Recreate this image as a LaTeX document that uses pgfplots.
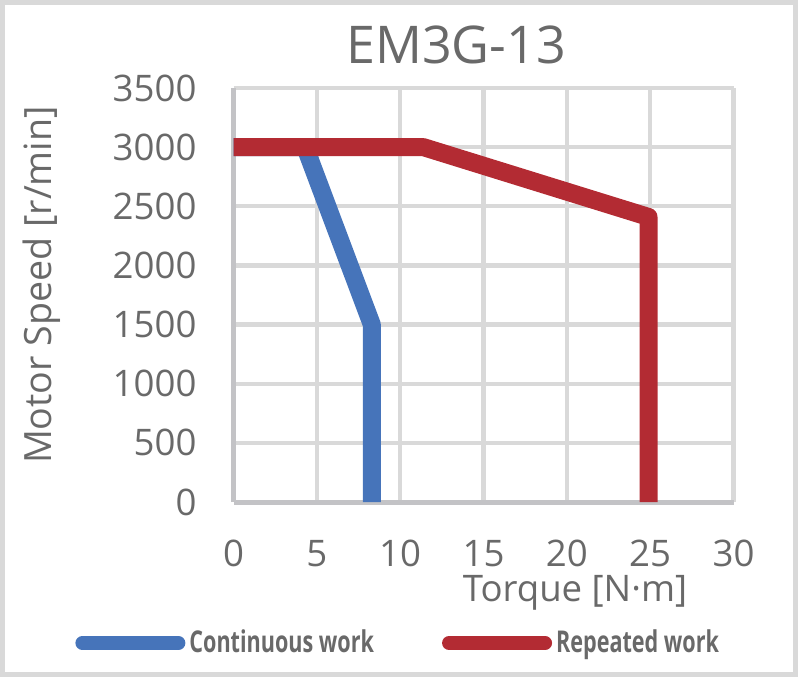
\documentclass[border=0pt]{standalone}
\usepackage{fontspec}
\setmainfont{Open Sans}
\usepackage{graphicx}
\usepackage{pgfplots}
\pgfplotsset{compat=1.18}
\definecolor{cblue}{RGB}{70,116,186}
\definecolor{cred}{RGB}{179,43,51}
\definecolor{gridc}{RGB}{217,217,217}
\definecolor{axc}{RGB}{195,195,198}
\definecolor{txt}{RGB}{105,105,105}
\begin{document}
\begin{tikzpicture}
\path[use as bounding box] (0,0) rectangle (399pt,338.5pt);
\draw[gridc, line width=2.5pt] (1.25pt,1.25pt) rectangle (397.75pt,337.25pt);
\begin{axis}[
 at={(116.75pt,87.5pt)}, anchor=south west,
 scale only axis, width=250pt, height=207pt,
 xmin=0, xmax=30, ymin=0, ymax=3500,
 xtick={0,5,...,30}, ytick={0,500,...,3500},
 grid=major, major grid style={gridc, line width=2.2pt},
 axis x line*=bottom, axis y line*=left,
 axis line style={axc, line width=2.5pt, -},
 major tick length=0pt,
 tick label style={font=\fontsize{18.3}{20}\selectfont, text=txt},
 /pgf/number format/assume math mode=true,
 /pgf/number format/1000 sep={},
 xticklabel style={yshift=-15.5pt},
 yticklabel style={xshift=-15pt},
 clip=false,
 legend columns=2,
 legend style={at={(-0.317,-0.3406)}, anchor=west, draw=none, fill=none,
   inner sep=0pt, font=\fontsize{15}{16}\selectfont, text=txt,
   /tikz/every even column/.append style={column sep=32pt}},
 legend cell align=left,
 legend image code/.code={\draw[#1, line width=7pt, line cap=round] (3.5pt,0pt) -- (51.5pt,0pt);},
]
\addplot[cblue, line width=9pt, line join=round] coordinates {(0,3000) (4.3,3000) (8.3,1500) (8.3,0)};
\addlegendentry{\scalebox{0.72}[1]{\bfseries Continuous work}}
\addplot[cred, line width=9pt, line join=round] coordinates {(0,3000) (11.4,3000) (24.9,2410) (24.9,0)};
\addlegendentry{\scalebox{0.72}[1]{\bfseries Repeated work}}
\end{axis}
\node[font=\fontsize{26}{30}\selectfont, text=txt] at (228pt,316pt) {EM3G-13};
\node[font=\fontsize{18.3}{20}\selectfont, text=txt] at (287.5pt,42pt) {Torque [N·m]};
\node[font=\fontsize{18.8}{20}\selectfont, text=txt, rotate=90] at (21pt,196pt) {Motor Speed [r/min]};
\end{tikzpicture}
\end{document}
